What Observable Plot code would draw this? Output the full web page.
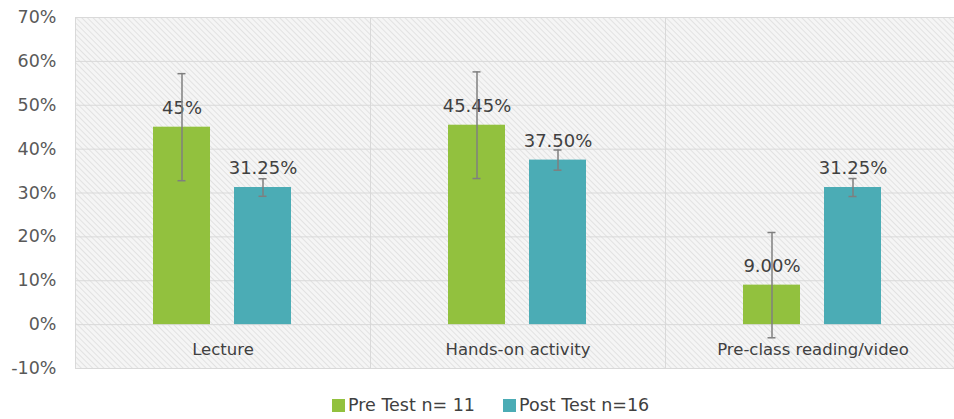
<!DOCTYPE html>
<html>
<head>
<meta charset="utf-8">
<script src="https://cdn.jsdelivr.net/npm/d3@7"></script>
<script src="https://cdn.jsdelivr.net/npm/@observablehq/plot@0.6"></script>
<style>
  html, body { margin: 0; padding: 0; background: #ffffff; }
  body { width: 954px; height: 419px; overflow: hidden; font-family: "DejaVu Sans", sans-serif; }
  #legend { position: relative; height: 39px; }
  .item { position: absolute; top: 15px; display: flex; align-items: center; font-size: 17.5px; color: #404040; }
  .sw { width: 13px; height: 13px; margin-right: 3px; }
</style>
</head>
<body>
<div id="chart"></div>
<div id="legend"></div>
<script>
const categories = ["Lecture", "Hands-on activity", "Pre-class reading/video"];
const seriesNames = ["Pre", "Post"];
const seriesLegend = ["Pre Test n= 11", "Post Test n=16"];
const seriesColors = ["#92c13e", "#4bacb5"];
const preValues = [45, 45.45, 9];
const postValues = [31.25, 37.5, 31.25];
const preErr = [12.2, 12.15, 12.0];
const postErr = [2.0, 2.3, 2.05];
const preLabels = ["45%", "45.45%", "9.00%"];
const postLabels = ["31.25%", "37.50%", "31.25%"];
const yTicks = [-10, 0, 10, 20, 30, 40, 50, 60, 70];

const rows = categories.flatMap((c, i) => [
  {cat: c, series: "Pre", value: preValues[i], err: preErr[i], label: preLabels[i]},
  {cat: c, series: "Post", value: postValues[i], err: postErr[i], label: postLabels[i]}
]);
const catRows = categories.map(c => ({cat: c}));

const svg = Plot.plot({
  width: 954,
  height: 380,
  marginTop: 17,
  marginBottom: 12,
  marginLeft: 74,
  marginRight: 0,
  style: {fontFamily: "DejaVu Sans, sans-serif", color: "#595959", background: "transparent", overflow: "visible"},
  fx: {domain: categories, range: [74, 960.5], padding: 0, axis: null, label: null},
  x: {domain: seriesNames, paddingInner: 0.293, paddingOuter: 0.948, axis: null, label: null},
  y: {domain: [-10, 70], axis: null, label: null},
  color: {domain: seriesNames, range: seriesColors},
  marks: [
    Plot.frame({fill: "url(#hatch)", stroke: "#d9d9d9", strokeWidth: 1}),
    Plot.gridY({ticks: yTicks, stroke: "#d9d9d9", strokeOpacity: 1, strokeWidth: 1}),
    Plot.axisY({ticks: yTicks, tickFormat: d => d + "%", tickSize: 0, tickPadding: 19, fontSize: 17.5, label: null}),
    Plot.barY(rows, {fx: "cat", x: "series", y: "value", fill: "series"}),
    Plot.text(rows, {fx: "cat", x: "series", y: "value", text: "label", dy: -19, lineAnchor: "middle", fontSize: 18, fill: "#404040"}),
    Plot.ruleX(rows, {fx: "cat", x: "series", y1: d => d.value - d.err, y2: d => d.value + d.err, stroke: "#7f7f7f", strokeWidth: 1.5}),
    Plot.tickY(rows, {fx: "cat", x: "series", y: d => d.value - d.err, stroke: "#7f7f7f", strokeWidth: 1.5, insetLeft: 24.5, insetRight: 24.5}),
    Plot.tickY(rows, {fx: "cat", x: "series", y: d => d.value + d.err, stroke: "#7f7f7f", strokeWidth: 1.5, insetLeft: 24.5, insetRight: 24.5}),
    Plot.text(catRows, {fx: "cat", y: -5.7, text: "cat", lineAnchor: "middle", fontSize: 16.5, fill: "#404040"})
  ]
});

// hatched background pattern
const defs = d3.select(svg).insert("defs", ":first-child");
const pat = defs.append("pattern")
  .attr("id", "hatch")
  .attr("patternUnits", "userSpaceOnUse")
  .attr("width", 4).attr("height", 4)
  .attr("patternTransform", "rotate(-45)");
pat.append("rect").attr("width", 4).attr("height", 4).attr("fill", "#f5f5f5");
pat.append("line").attr("x1", 0).attr("y1", 0).attr("x2", 0).attr("y2", 4)
  .attr("stroke", "#dcdcdc").attr("stroke-width", 1.5);

document.getElementById("chart").appendChild(svg);

// legend
const legend = document.getElementById("legend");
const lefts = [332, 503];
seriesLegend.forEach((name, i) => {
  const item = document.createElement("div");
  item.className = "item";
  item.style.left = lefts[i] + "px";
  const sw = document.createElement("div");
  sw.className = "sw";
  sw.style.background = seriesColors[i];
  const t = document.createElement("span");
  t.textContent = name;
  item.appendChild(sw);
  item.appendChild(t);
  legend.appendChild(item);
});
</script>
</body>
</html>
